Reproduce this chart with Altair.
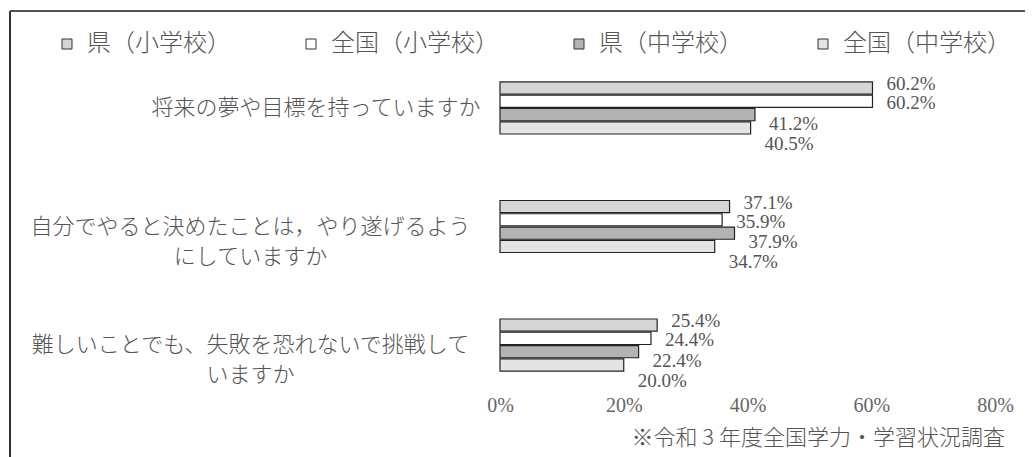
import altair as alt
import pandas as pd

questions = [
    "将来の夢や目標を持っていますか",
    "自分でやると決めたことは，やり遂げるよう\nにしていますか",
    "難しいことでも、失敗を恐れないで挑戦して\nいますか",
]
series = ["県（小学校）", "全国（小学校）", "県（中学校）", "全国（中学校）"]
values = {
    "県（小学校）": [60.2, 37.1, 25.4],
    "全国（小学校）": [60.2, 35.9, 24.4],
    "県（中学校）": [41.2, 37.9, 22.4],
    "全国（中学校）": [40.5, 34.7, 20.0],
}
fills = ["#d6d6d6", "#ffffff", "#b3b3b3", "#e4e4e4"]
label_dy = [-4, 2, 9, 16]
x_ticks = [0, 20, 40, 60, 80]
footnote = "※令和 3 年度全国学力・学習状況調査"

rows = []
for s in series:
    for q, v in zip(questions, values[s]):
        rows.append({"question": q, "series": s, "value": v})
df = pd.DataFrame(rows)

JP = "Noto Sans CJK JP"
NUM = "Liberation Serif"
TXT = "#555"

y_enc = alt.Y(
    "question:N",
    sort=questions,
    scale=alt.Scale(paddingInner=0.561, paddingOuter=0.101),
    axis=alt.Axis(
        title=None,
        domain=False,
        ticks=False,
        labelFont=JP,
        labelFontSize=22,
        labelFontWeight=300,
        labelColor=TXT,
        labelLimit=1000,
        labelLineHeight=30,
        labelBaseline="middle",
        labelExpr="split(datum.label, '\\n')",
        labelAlign={"condition": {"test": f"datum.value === '{questions[0]}'", "value": "right"}, "value": "center"},
        labelPadding={"condition": {"test": f"datum.value === '{questions[0]}'", "value": 20}, "value": 250},
    ),
)
x_enc = alt.X(
    "value:Q",
    scale=alt.Scale(domain=[0, 80], nice=False),
    axis=alt.Axis(
        title=None,
        values=x_ticks,
        grid=False,
        domain=False,
        ticks=False,
        labelFlush=False,
        labelFont=NUM,
        labelFontSize=20,
        labelColor="#666",
        labelPadding=12,
        labelExpr="datum.value + '%'",
    ),
)
yoff = alt.YOffset("series:N", sort=series, scale=alt.Scale(domain=series, paddingInner=0.08))

base = alt.Chart(df)

bars = base.mark_bar(stroke="#222", strokeWidth=1.2).encode(
    x=x_enc,
    y=y_enc,
    yOffset=yoff,
    fill=alt.Fill(
        "series:N",
        sort=series,
        scale=alt.Scale(domain=series, range=fills),
        legend=alt.Legend(
            title=None,
            orient="none",
            legendX=-445,
            legendY=-38,
            direction="horizontal",
            symbolType="square",
            symbolSize=100,
            symbolStrokeColor="#333",
            symbolStrokeWidth=1,
            labelFont=JP,
            labelFontSize=24,
            labelFontWeight=300,
            labelColor=TXT,
            labelOffset=8,
            columnPadding=68,
            labelLimit=400,
        ),
    ),
)

layers = [bars]
for s, dy in zip(series, label_dy):
    layers.append(
        base.transform_filter(alt.datum.series == s)
        .transform_calculate(lbl="format(datum.value, '.1f') + '%'")
        .mark_text(align="left", baseline="middle", dx=14, dy=dy, font=NUM, fontSize=19, color=TXT)
        .encode(
            x="value:Q",
            y=alt.Y("question:N", sort=questions),
            yOffset=yoff,
            text="lbl:N",
        )
    )

note = alt.Chart(pd.DataFrame({"t": [footnote]})).mark_text(
    align="right", baseline="middle", font=JP, fontSize=22, fontWeight=300, color=TXT
).encode(text="t:N", x=alt.value(505), y=alt.value(368))

frame_left = base.mark_rule(color="#333", strokeWidth=1.5).encode(
    x=alt.value(-490), y=alt.value(-59), y2=alt.value(420)
)
frame_top = base.mark_rule(color="#555", strokeWidth=1.2).encode(
    x=alt.value(-490), x2=alt.value(560), y=alt.value(-59)
)

chart = (
    alt.layer(*layers, note, frame_left, frame_top)
    .properties(
        width=495,
        height=313,
        padding={"left": 492, "top": 62, "right": 30, "bottom": 80},
        autosize=alt.AutoSizeParams(type="none"),
        background="white",
    )
    .configure_view(strokeWidth=0)
)

chart.save("out.html", embed_options={"renderer": "svg", "actions": False})
